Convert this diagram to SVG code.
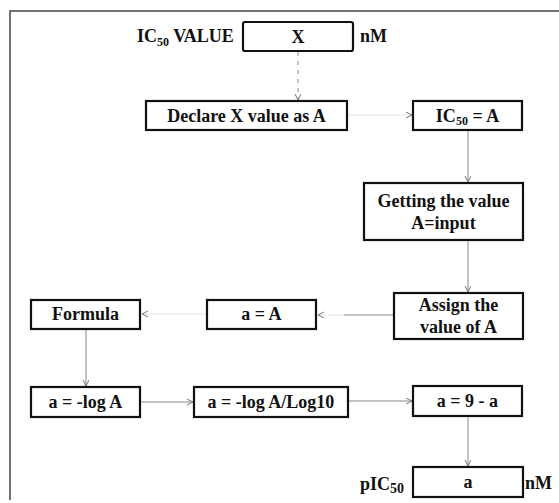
<svg xmlns="http://www.w3.org/2000/svg" width="559" height="503" viewBox="0 0 559 503">
<defs>
<marker id="arr" markerWidth="8" markerHeight="8" refX="6" refY="3" orient="auto" markerUnits="userSpaceOnUse">
<path d="M0,0 L6,3 L0,6" fill="none" stroke="#777" stroke-width="1"/>
</marker>
<style>
.box{fill:#fff;stroke:#111;stroke-width:2.2}
.t{font-family:"Liberation Serif","Times New Roman",serif;font-weight:bold;font-size:18px;fill:#111;text-anchor:middle}
.lbl{font-family:"Liberation Serif","Times New Roman",serif;font-weight:bold;font-size:18px;fill:#111}
.c{fill:none;stroke:#888;stroke-width:1}
.faint{fill:none;stroke:#e4e4e4;stroke-width:1}
</style>
</defs>
<rect width="559" height="503" fill="#fff"/>
<path d="M10,500 V11 H559" fill="none" stroke="#444" stroke-width="1.5"/>

<g id="connectors">
<line class="c" x1="298" y1="52" x2="298" y2="100" stroke-dasharray="4,5" marker-end="url(#arr)"/>
<line class="faint" x1="348" y1="115" x2="412" y2="115" marker-end="url(#arr)"/>
<line class="c" x1="468" y1="131" x2="468" y2="182" marker-end="url(#arr)"/>
<line class="c" x1="468" y1="241" x2="468" y2="292" marker-end="url(#arr)"/>
<line class="c" x1="394" y1="315" x2="344" y2="315"/>
<line class="faint" x1="344" y1="315" x2="318" y2="315" marker-end="url(#arr)"/>
<line class="faint" x1="206" y1="314" x2="142" y2="314" marker-end="url(#arr)"/>
<line class="c" x1="86" y1="330" x2="86" y2="386" marker-end="url(#arr)"/>
<line class="c" x1="141" y1="402" x2="193" y2="402" marker-end="url(#arr)"/>
<line class="c" x1="349" y1="401" x2="412" y2="401" marker-end="url(#arr)"/>
<line class="c" x1="468" y1="417" x2="468" y2="466" marker-end="url(#arr)"/>
</g>

<g id="input">
<text class="lbl" x="137" y="42">IC<tspan font-size="12" dy="4">50</tspan><tspan dy="-4"> VALUE</tspan></text>
<rect class="box" x="243" y="22" width="110" height="29" rx="2"/>
<text class="t" x="298" y="43" font-size="19">X</text>
<text class="lbl" x="360" y="42" font-size="17">nM</text>
</g>

<g id="declare">
<rect class="box" x="146" y="101" width="201" height="29"/>
<text class="t" x="246.5" y="122">Declare X value as A</text>
</g>

<g id="ic50a">
<rect class="box" x="413" y="101" width="109" height="29"/>
<text class="t" x="467.5" y="122">IC<tspan font-size="12" dy="3">50</tspan><tspan dy="-3"> = A</tspan></text>
</g>

<g id="getting">
<rect class="box" x="364" y="183" width="159" height="57"/>
<text class="t" x="443.5" y="207">Getting the value</text>
<text class="t" x="443.5" y="229">A=input</text>
</g>

<g id="assign">
<rect class="box" x="394" y="293" width="129" height="46"/>
<text class="t" x="458.5" y="311">Assign the</text>
<text class="t" x="458.5" y="333">value of A</text>
</g>

<g id="aeqA">
<rect class="box" x="207" y="300" width="109" height="29"/>
<text class="t" x="261.5" y="320">a = A</text>
</g>

<g id="formula">
<rect class="box" x="31" y="300" width="109" height="29"/>
<text class="t" x="85.5" y="320">Formula</text>
</g>

<g id="neglog">
<rect class="box" x="31" y="387" width="109" height="30"/>
<text class="t" x="85.5" y="408">a = -log A</text>
</g>

<g id="neglog10">
<rect class="box" x="194" y="387" width="154" height="30"/>
<text class="t" x="271" y="408">a = -log A/Log10</text>
</g>

<g id="nineminus">
<rect class="box" x="413" y="386" width="109" height="30"/>
<text class="t" x="467.5" y="407">a = 9 - a</text>
</g>

<g id="output">
<text class="lbl" x="360" y="490" font-size="21">pIC<tspan font-size="14" dy="3">50</tspan></text>
<rect class="box" x="413" y="467" width="110" height="30"/>
<text class="t" x="468" y="488">a</text>
<text class="lbl" x="525" y="489" font-size="20">nM</text>
</g>
</svg>
